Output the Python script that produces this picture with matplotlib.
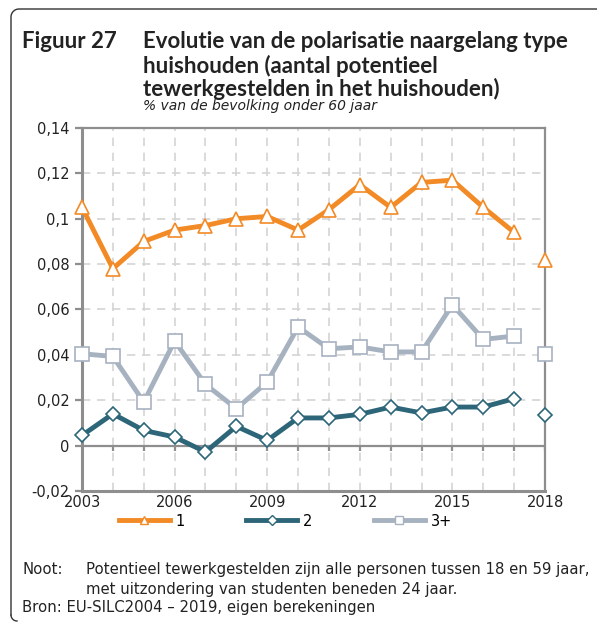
import numpy as np
import matplotlib.pyplot as plt

plt.rcParams['font.family'] = ['DejaVu Sans']

# Data
years = list(range(2003, 2019))
s1 = [0.105, 0.078, 0.090, 0.095, 0.097, 0.100, 0.101, 0.095, 0.104, 0.115,
      0.105, 0.116, 0.117, 0.105, 0.094, 0.082]
s2 = [0.0045, 0.014, 0.0067, 0.0038, -0.0028, 0.0085, 0.0023, 0.0122, 0.0122, 0.0138,
      0.0170, 0.0144, 0.0170, 0.0170, 0.0207, 0.0134]
s3 = [0.0405, 0.0393, 0.0192, 0.0461, 0.0270, 0.0163, 0.0280, 0.0523, 0.0427, 0.0435,
      0.0413, 0.0413, 0.0621, 0.0468, 0.0483, 0.0405]
labels = ['1', '2', '3+']
yticks = [-0.02, 0, 0.02, 0.04, 0.06, 0.08, 0.1, 0.12, 0.14]
ytick_labels = ['-0,02', '0', '0,02', '0,04', '0,06', '0,08', '0,1', '0,12', '0,14']
xtick_years = [2003, 2006, 2009, 2012, 2015, 2018]

colors = ['#F28A26', '#2D6579', '#A7B2C0']
markers = ['^', 'D', 's']
msizes = [10, 7, 10]

fig = plt.figure(figsize=(5.97, 6.27), dpi=100)
ax = fig.add_axes([0.1374, 0.2169, 0.7755, 0.579])

txtc = '#222222'
grey = '#8E8E8E'

# grid
for y in yticks[1:-1]:
    if y != 0:
        ax.axhline(y, color='#D4D4D4', lw=1.2, ls=(0, (5, 4)), zorder=1)
for x in years[1:-1]:
    ax.axvline(x, color='#D4D4D4', lw=1.2, ls=(0, (5, 4)), zorder=1)
ax.axhline(0, color=grey, lw=1.6, zorder=2)
for x in years:
    ax.plot([x, x], [0, -0.0022], color=grey, lw=1.6, zorder=2, solid_capstyle='butt')

series = [s1, s2, s3]
for s, c, m, ms, lab in zip(series, colors, markers, msizes, labels):
    ax.plot(years[:-1], s[:-1], color=c, lw=3.5, marker=m, ms=ms,
            mfc='white', mec=c, mew=1.2, zorder=4, clip_on=False)
    ax.plot(years[-1:], s[-1:], ls='none', marker=m, ms=ms, mfc='white',
            mec=c, mew=1.2, zorder=5, clip_on=False)

ax.set_xlim(2003, 2018)
ax.set_ylim(-0.02, 0.14)
ax.set_yticks(yticks)
ax.set_yticklabels(ytick_labels)
ax.set_xticks(xtick_years)
ax.set_xticklabels([str(y) for y in xtick_years])
ax.tick_params(axis='y', length=5, width=1.6, color=grey, labelsize=10.5,
               labelcolor=txtc, pad=4)
ax.tick_params(axis='x', length=0, labelsize=10.5, labelcolor=txtc, pad=3)
for sp in ['left', 'right', 'top', 'bottom']:
    ax.spines[sp].set_color(grey)
ax.spines['left'].set_linewidth(2.2)
ax.spines['right'].set_linewidth(1.6)
ax.spines['top'].set_linewidth(1.6)
ax.spines['bottom'].set_linewidth(2.2)

# legend
leg_handles = []
for c, m, lab in zip(colors, markers, labels):
    h, = ax.plot([], [], color=c, lw=3.5, marker=m, ms=6 if m != 'D' else 5,
                 mfc='white', mec=c, mew=1.0, label=lab)
    leg_handles.append(h)
fig.legend(handles=leg_handles, labels=labels, loc='center',
           bbox_to_anchor=(0.478, 0.169), ncol=3, frameon=False, fontsize=10.5,
           handlelength=3.5, handletextpad=0.4, columnspacing=4.2)

# titles
tfont = ['Lato', 'DejaVu Sans']
tsize = 16
fig.text(22 / 597, 1 - 42 / 627, 'Figuur 27', fontsize=tsize, fontweight='bold',
         family=tfont, color=txtc, va='center')
fig.text(143 / 597, 1 - 42 / 627, 'Evolutie van de polarisatie naargelang type',
         fontsize=tsize, fontweight='bold', family=tfont, color=txtc, va='center')
fig.text(143 / 597, 1 - 65.5 / 627, 'huishouden (aantal potentieel',
         fontsize=tsize, fontweight='bold', family=tfont, color=txtc, va='center')
fig.text(143 / 597, 1 - 89 / 627, 'tewerkgestelden in het huishouden)',
         fontsize=tsize, fontweight='bold', family=tfont, color=txtc, va='center')
fig.text(143 / 597, 1 - 106 / 627, '% van de bevolking onder 60 jaar',
         fontsize=10, style='italic', color=txtc, va='center')

# notes
nsize = 10.7
fig.text(22 / 597, 1 - 574 / 627, 'Noot:', fontsize=nsize, color=txtc, va='baseline')
fig.text(86 / 597, 1 - 574 / 627,
         'Potentieel tewerkgestelden zijn alle personen tussen 18 en 59 jaar,',
         fontsize=nsize, color=txtc, va='baseline')
fig.text(86 / 597, 1 - 594 / 627, 'met uitzondering van studenten beneden 24 jaar.',
         fontsize=nsize, color=txtc, va='baseline')
fig.text(22 / 597, 1 - 612 / 627, 'Bron: EU-SILC2004 \u2013 2019, eigen berekeningen',
         fontsize=nsize, color=txtc, va='baseline')

# frame lines (top and left with rounded corner)
r = 8
X = lambda px: px / 597
Y = lambda py: 1 - py / 627
t = np.linspace(np.pi / 2, np.pi, 20)
cx, cy = 11 + r, 9 + r
arc_x = [X(cx + r * np.cos(a)) for a in t]
arc_y = [Y(cy - r * np.sin(a)) for a in t]
fig.add_artist(plt.Line2D([X(597)] + arc_x + [X(11), X(11)],
                          [Y(9)] + arc_y + [Y(615), Y(615)],
                          color='#333333', lw=1.0, transform=fig.transFigure))
t2 = np.linspace(np.pi, 1.5 * np.pi, 10)
cx2, cy2 = 11 + 6, 615
fig.add_artist(plt.Line2D([X(cx2 + 6 * np.cos(a)) for a in t2],
                          [Y(cy2 - 6 * np.sin(a)) for a in t2],
                          color='#333333', lw=1.0, transform=fig.transFigure))

fig.savefig('out.png', dpi=100)
